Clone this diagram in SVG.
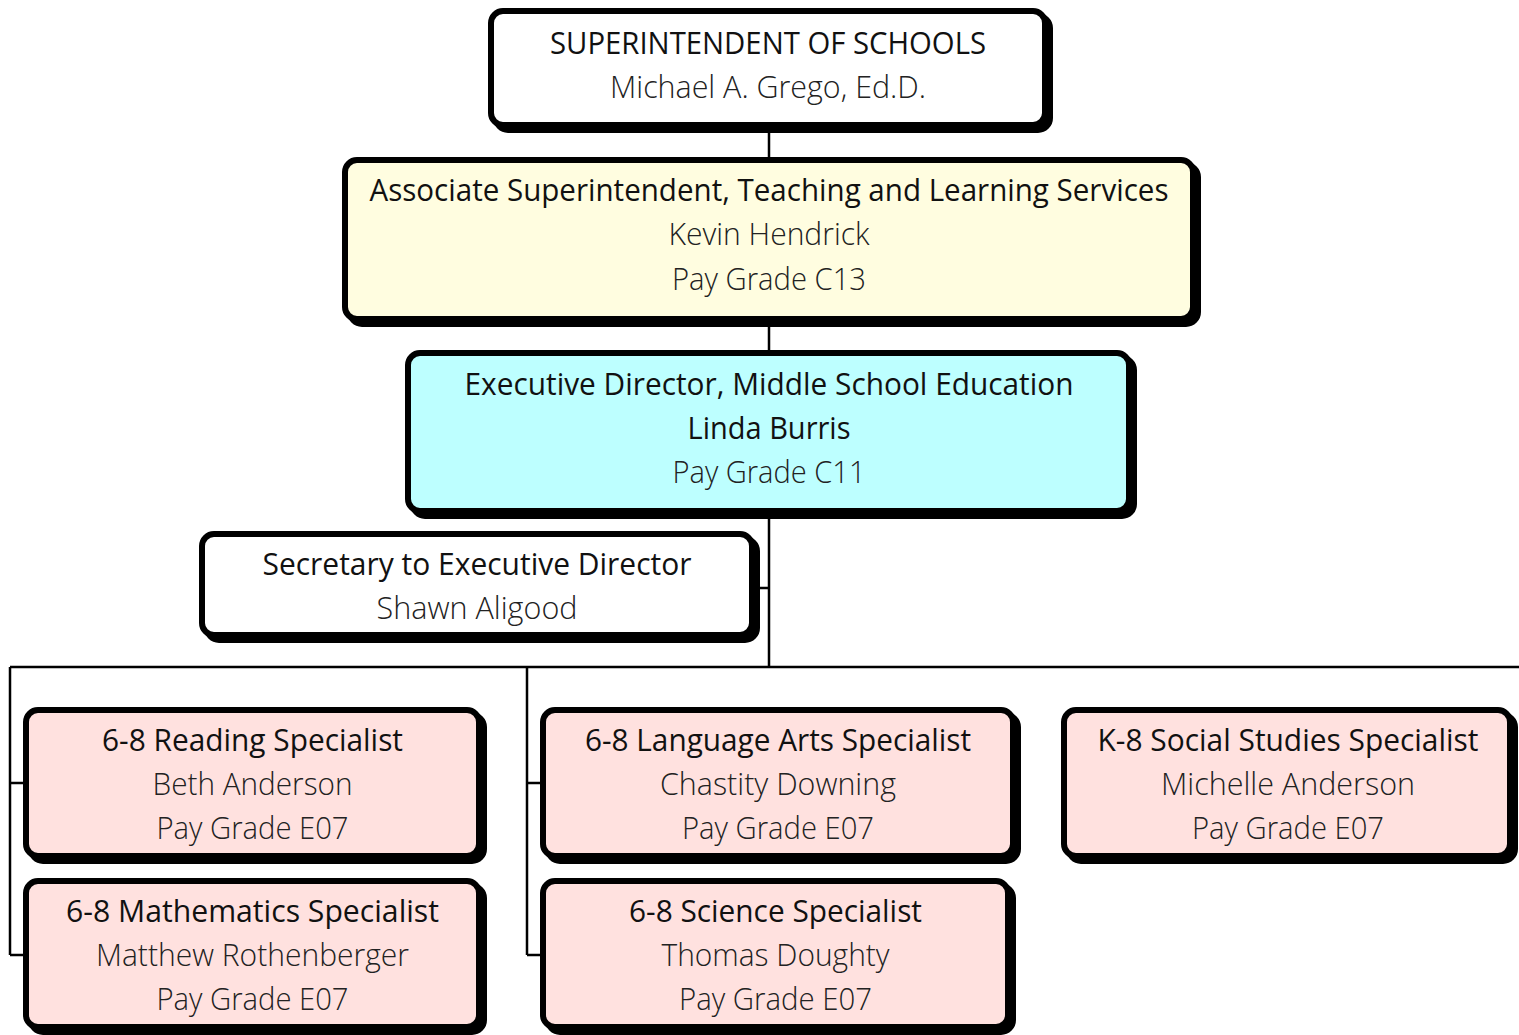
<svg xmlns="http://www.w3.org/2000/svg" width="1519" height="1035" viewBox="0 0 1519 1035">
<style>
.sh{fill:#000;stroke:#000;stroke-width:6}
.bx{stroke:#000;stroke-width:6}
.w{fill:#fff}.y{fill:#FFFDE0}.c{fill:#BDFFFF}.p{fill:#FFE1DF}
text{font-family:"Open Sans","Liberation Sans",sans-serif;font-size:31px;text-anchor:middle;fill:#111}
.t{font-weight:400}
.n{font-weight:300;fill:#222}
.cn{stroke:#000;stroke-width:2.5;fill:none}
</style>
<rect width="1519" height="1035" fill="#fff"/>
<g id="connectors">
<path class="cn" d="M769 133V158M769 327V351M769 519V667M760 588H769M10 667H1519M10 667V955M10 783H24M10 955H24M527 667V955M527 783H541M527 955H541"/>
</g>
<g id="superintendent">
<rect class="sh" x="496" y="16" width="554" height="114" rx="12"/>
<rect class="bx w" x="491" y="11" width="554" height="114" rx="12"/>
<text class="t" x="768" y="54" textLength="436" lengthAdjust="spacingAndGlyphs">SUPERINTENDENT OF SCHOOLS</text>
<text class="n" x="768" y="98" textLength="316" lengthAdjust="spacingAndGlyphs">Michael A. Grego, Ed.D.</text>
</g>
<g id="associate">
<rect class="sh" x="350" y="165" width="848" height="159" rx="12"/>
<rect class="bx y" x="345" y="160" width="848" height="159" rx="12"/>
<text class="t" x="769" y="201" textLength="799" lengthAdjust="spacingAndGlyphs">Associate Superintendent, Teaching and Learning Services</text>
<text class="n" x="769" y="245" textLength="201" lengthAdjust="spacingAndGlyphs">Kevin Hendrick</text>
<text class="n" x="769" y="290" textLength="194" lengthAdjust="spacingAndGlyphs">Pay Grade C13</text>
</g>
<g id="executive">
<rect class="sh" x="413" y="358" width="721" height="158" rx="12"/>
<rect class="bx c" x="408" y="353" width="721" height="158" rx="12"/>
<text class="t" x="769" y="395" textLength="609" lengthAdjust="spacingAndGlyphs">Executive Director, Middle School Education</text>
<text class="t" x="769" y="439" textLength="163" lengthAdjust="spacingAndGlyphs">Linda Burris</text>
<text class="n" x="769" y="483" textLength="193" lengthAdjust="spacingAndGlyphs">Pay Grade C11</text>
</g>
<g id="secretary">
<rect class="sh" x="207" y="539" width="550" height="101" rx="12"/>
<rect class="bx w" x="202" y="534" width="550" height="101" rx="12"/>
<text class="t" x="477" y="575" textLength="429" lengthAdjust="spacingAndGlyphs">Secretary to Executive Director</text>
<text class="n" x="477" y="619" textLength="201" lengthAdjust="spacingAndGlyphs">Shawn Aligood</text>
</g>
<g id="reading">
<rect class="sh" x="31" y="715" width="453" height="146" rx="12"/>
<rect class="bx p" x="26" y="710" width="453" height="146" rx="12"/>
<text class="t" x="252.5" y="751" textLength="301" lengthAdjust="spacingAndGlyphs">6-8 Reading Specialist</text>
<text class="n" x="252.5" y="795" textLength="200" lengthAdjust="spacingAndGlyphs">Beth Anderson</text>
<text class="n" x="252.5" y="839" textLength="192" lengthAdjust="spacingAndGlyphs">Pay Grade E07</text>
</g>
<g id="language-arts">
<rect class="sh" x="548" y="715" width="470" height="146" rx="12"/>
<rect class="bx p" x="543" y="710" width="470" height="146" rx="12"/>
<text class="t" x="778" y="751" textLength="386" lengthAdjust="spacingAndGlyphs">6-8 Language Arts Specialist</text>
<text class="n" x="778" y="795" textLength="236" lengthAdjust="spacingAndGlyphs">Chastity Downing</text>
<text class="n" x="778" y="839" textLength="192" lengthAdjust="spacingAndGlyphs">Pay Grade E07</text>
</g>
<g id="social-studies">
<rect class="sh" x="1069" y="715" width="446" height="146" rx="12"/>
<rect class="bx p" x="1064" y="710" width="446" height="146" rx="12"/>
<text class="t" x="1288" y="751" textLength="381" lengthAdjust="spacingAndGlyphs">K-8 Social Studies Specialist</text>
<text class="n" x="1288" y="795" textLength="254" lengthAdjust="spacingAndGlyphs">Michelle Anderson</text>
<text class="n" x="1288" y="839" textLength="192" lengthAdjust="spacingAndGlyphs">Pay Grade E07</text>
</g>
<g id="mathematics">
<rect class="sh" x="31" y="886" width="453" height="146" rx="12"/>
<rect class="bx p" x="26" y="881" width="453" height="146" rx="12"/>
<text class="t" x="252.5" y="922" textLength="373" lengthAdjust="spacingAndGlyphs">6-8 Mathematics Specialist</text>
<text class="n" x="252.5" y="966" textLength="313" lengthAdjust="spacingAndGlyphs">Matthew Rothenberger</text>
<text class="n" x="252.5" y="1010" textLength="192" lengthAdjust="spacingAndGlyphs">Pay Grade E07</text>
</g>
<g id="science">
<rect class="sh" x="548" y="886" width="465" height="146" rx="12"/>
<rect class="bx p" x="543" y="881" width="465" height="146" rx="12"/>
<text class="t" x="775.5" y="922" textLength="293" lengthAdjust="spacingAndGlyphs">6-8 Science Specialist</text>
<text class="n" x="775.5" y="966" textLength="228" lengthAdjust="spacingAndGlyphs">Thomas Doughty</text>
<text class="n" x="775.5" y="1010" textLength="193" lengthAdjust="spacingAndGlyphs">Pay Grade E07</text>
</g>
</svg>
